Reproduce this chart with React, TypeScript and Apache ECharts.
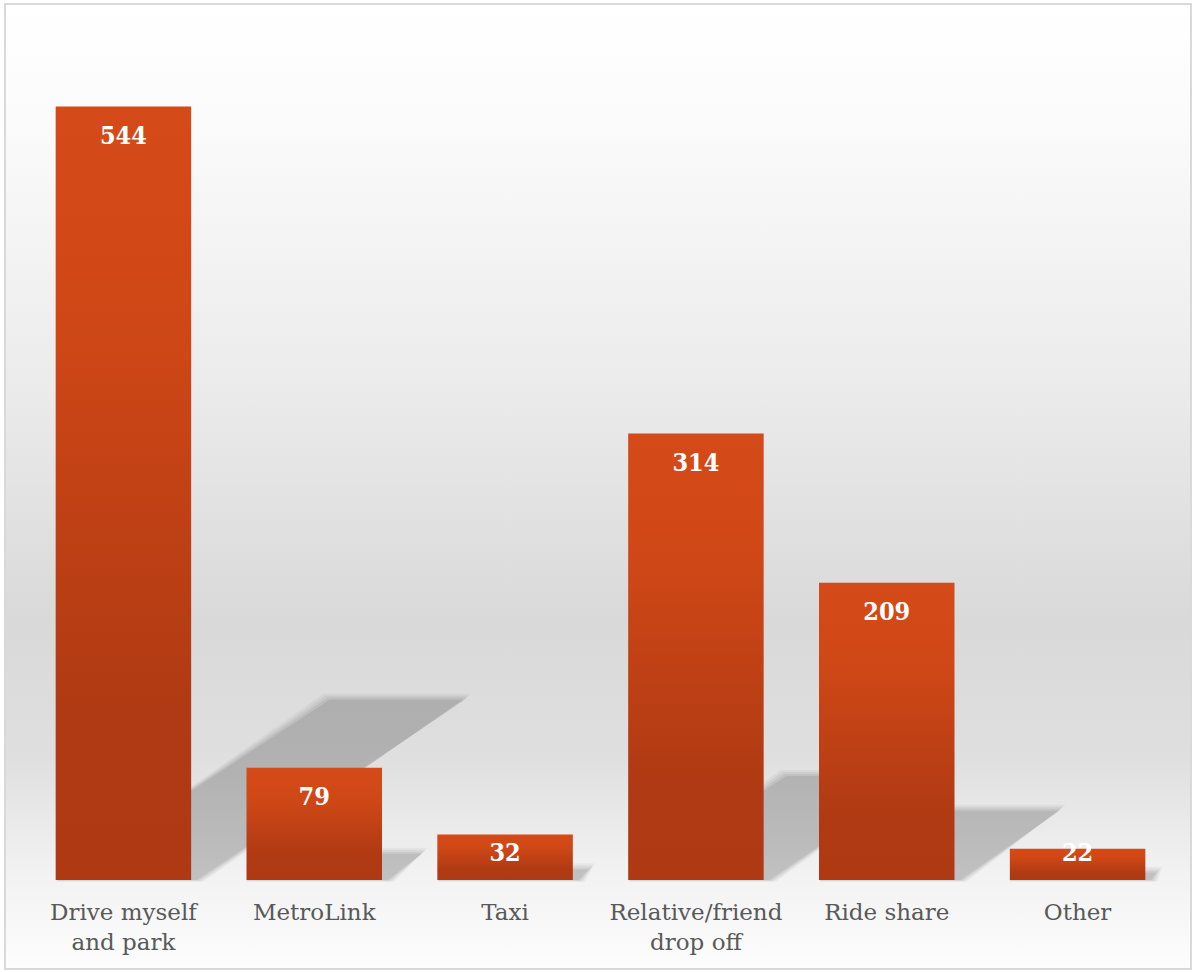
import React, { useEffect, useRef } from "react";
import * as echarts from "echarts";

const categories = [
  "Drive myself\nand park",
  "MetroLink",
  "Taxi",
  "Relative/friend\ndrop off",
  "Ride share",
  "Other",
];
const values = [544, 79, 32, 314, 209, 22];
const axisMax = 600;

export default function App() {
  const ref = useRef<HTMLDivElement>(null);

  useEffect(() => {
    if (!ref.current) return;
    const chart = echarts.init(ref.current, undefined, { renderer: "svg" });

    const barGradient = new echarts.graphic.LinearGradient(0, 0, 0, 1, [
      { offset: 0, color: "#d44a18" },
      { offset: 0.25, color: "#d14817" },
      { offset: 0.78, color: "#b03a13" },
      { offset: 1, color: "#ae3912" },
    ]);

    const bgGradient = new echarts.graphic.LinearGradient(0, 0, 0, 1, [
      { offset: 0, color: "#ffffff" },
      { offset: 0.12, color: "#fbfbfb" },
      { offset: 0.4, color: "#ebebeb" },
      { offset: 0.64, color: "#d9d9d9" },
      { offset: 0.78, color: "#dfdfdf" },
      { offset: 0.9, color: "#f2f2f2" },
      { offset: 1, color: "#fdfdfd" },
    ]);

    const barData = values.map((v) => ({
      value: v,
      label:
        v < 60
          ? { position: "insideBottom", distance: 15 }
          : { position: "insideTop", distance: 16 },
    }));

    const poly = (pts: number[][], fill: string) => ({
      type: "polygon",
      shape: { points: pts },
      style: { fill },
    });

    chart.setOption({
      animation: false,
      graphic: [
        {
          type: "rect",
          z: -10,
          silent: true,
          shape: { x: 5, y: 4, width: 1186, height: 965 },
          style: { fill: bgGradient, stroke: "#d9d9d9", lineWidth: 2 },
        },
      ],
      grid: { left: 28, right: 21, top: 27, bottom: 92 },
      xAxis: {
        type: "category",
        data: categories,
        axisLine: { show: false },
        axisTick: { show: false },
        axisLabel: {
          color: "#595959",
          fontFamily: "DejaVu Serif",
          fontSize: 23,
          lineHeight: 30,
          margin: 17,
          interval: 0,
        },
      },
      yAxis: {
        type: "value",
        min: 0,
        max: axisMax,
        show: false,
        splitLine: { show: false },
      },
      series: [
        {
          type: "custom",
          z: 1,
          silent: true,
          data: values.map((v, i) => [i, v]),
          renderItem: (params: any, api: any) => {
            const idx = api.value(0);
            const val = api.value(1);
            const base = api.coord([idx, 0]);
            const top = api.coord([idx, val]);
            const bw = api.size([1, 0])[0] * 0.71;
            const h = base[1] - top[1];
            const sh = h * 0.233;
            const dx = sh * 1.52;
            const x0 = base[0] - bw / 2;
            const x1 = base[0] + bw / 2;
            const y0 = base[1];
            const layers = [];
            const spreads = [6, 4, 2, 0];
            const alphas = [0.04, 0.05, 0.06, 0.07];
            for (let k = 0; k < spreads.length; k++) {
              const s = spreads[k];
              layers.push(
                poly(
                  [
                    [x0, y0 + s * 0.3],
                    [x1 + 6 + s, y0 + s * 0.3],
                    [x1 + dx + s, y0 - sh - s],
                    [x0 + dx - s, y0 - sh - s],
                  ],
                  `rgba(0,0,0,${alphas[k]})`
                )
              );
            }
            return { type: "group", children: layers };
          },
        },
        {
          type: "bar",
          z: 3,
          data: barData,
          barCategoryGap: "29%",
          itemStyle: { color: barGradient },
          label: {
            show: true,
            color: "#ffffff",
            fontFamily: "DejaVu Serif Condensed",
            fontWeight: "bold",
            fontSize: 25,
          },
        },
      ],
    });

    return () => chart.dispose();
  }, []);

  return (
    <div
      ref={ref}
      style={{ position: "absolute", left: 0, top: 0, width: 1194, height: 972 }}
    />
  );
}
